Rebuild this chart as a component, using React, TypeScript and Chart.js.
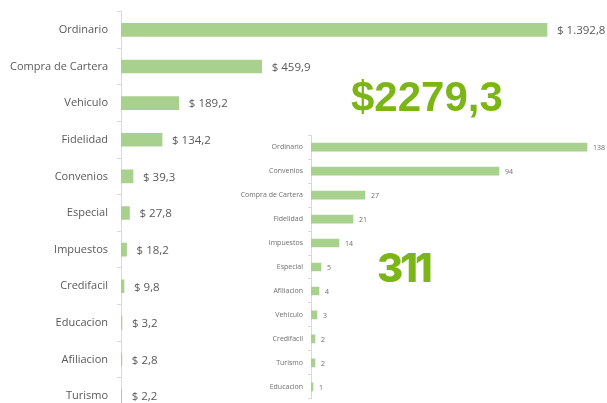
import React, { useEffect, useRef } from "react";
import { Chart, registerables } from "chart.js";

Chart.register(...registerables);

const mainCategories = ["Ordinario", "Compra de Cartera", "Vehiculo", "Fidelidad", "Convenios", "Especial", "Impuestos", "Credifacil", "Educacion", "Afiliacion", "Turismo"];
const mainValues = [1392.8, 459.9, 189.2, 134.2, 39.3, 27.8, 18.2, 9.8, 3.2, 2.8, 2.2];
const insetCategories = ["Ordinario", "Convenios", "Compra de Cartera", "Fidelidad", "Impuestos", "Especial", "Afiliacion", "Vehiculo", "Credifacil", "Turismo", "Educacion"];
const insetValues = [138, 94, 27, 21, 14, 5, 4, 3, 2, 2, 1];
const totalAmount = "$2279,3";
const totalCount = "311";

const BAR = "#a9d18e";
const AXIS = "#d9d9d9";
const TEXT = "#595959";

function fmtMoney(v: number): string {
  const parts = v.toFixed(1).split(".");
  const int = parts[0].replace(/\B(?=(\d{3})+(?!\d))/g, ".");
  return "$ " + int + "," + parts[1];
}

function valueLabelPlugin(fmt: (v: number) => string, font: string, gap: number, color: string) {
  return {
    id: "valueLabels",
    afterDatasetsDraw(chart: any) {
      const ctx = chart.ctx;
      const meta = chart.getDatasetMeta(0);
      const data = chart.data.datasets[0].data as number[];
      ctx.save();
      ctx.font = font;
      ctx.fillStyle = color;
      ctx.textAlign = "left";
      ctx.textBaseline = "middle";
      meta.data.forEach((el: any, i: number) => {
        ctx.fillText(fmt(data[i]), el.x + gap, el.y + 1);
      });
      ctx.restore();
    },
  };
}

function makeConfig(labels: string[], values: number[], opts: any) {
  return {
    type: "bar" as const,
    data: {
      labels,
      datasets: [{ data: values, backgroundColor: BAR, borderWidth: 0, barThickness: opts.thickness }],
    },
    options: {
      indexAxis: "y" as const,
      animation: false as const,
      responsive: false,
      maintainAspectRatio: false,
      layout: { padding: opts.padding },
      plugins: { legend: { display: false }, tooltip: { enabled: false } },
      scales: {
        x: { display: false, min: 0, max: opts.max },
        y: {
          afterFit: (s: any) => { s.width = opts.axisWidth; },
          border: { color: AXIS, width: 1 },
          grid: { drawOnChartArea: false, drawTicks: true, tickLength: opts.tickLength, color: AXIS, offset: true },
          ticks: { color: opts.tickColor, font: { family: "Open Sans", size: opts.fontSize }, padding: opts.tickPadding, autoSkip: false },
        },
      },
    },
    plugins: [valueLabelPlugin(opts.fmt, opts.labelFont, opts.gap, opts.tickColor)],
  };
}

export default function App() {
  const mainRef = useRef<HTMLCanvasElement>(null);
  const insetRef = useRef<HTMLCanvasElement>(null);

  useEffect(() => {
    const main = new Chart(mainRef.current as HTMLCanvasElement, makeConfig(mainCategories, mainValues, {
      thickness: 13,
      padding: { top: 2, bottom: 0, left: 0, right: 0 },
      max: 1589,
      axisWidth: 121,
      tickLength: 4,
      tickPadding: 9,
      fontSize: 11,
      tickColor: TEXT,
      fmt: fmtMoney,
      labelFont: "11.5px 'Open Sans'",
      gap: 10,
    }) as any);
    const inset = new Chart(insetRef.current as HTMLCanvasElement, makeConfig(insetCategories, insetValues, {
      thickness: 8,
      padding: { top: 0, bottom: 0, left: 0, right: 0 },
      max: 148,
      axisWidth: 81,
      tickLength: 3,
      tickPadding: 5,
      fontSize: 7,
      tickColor: "#6f6f6f",
      fmt: (v: number) => String(v),
      labelFont: "7px 'Open Sans'",
      gap: 6,
    }) as any);
    return () => { main.destroy(); inset.destroy(); };
  }, []);

  return (
    <div style={{ position: "absolute", left: 0, top: 0, width: 607, height: 403, overflow: "hidden", background: "#fff" }}>
      <canvas ref={mainRef} width={607} height={434} style={{ position: "absolute", left: 0, top: -4 }} />
      <canvas ref={insetRef} width={377} height={282} style={{ position: "absolute", left: 230, top: 126 }} />
      <div style={{ position: "absolute", left: 351, top: 72, fontFamily: "'Liberation Sans', Arial, sans-serif", fontWeight: 700, fontSize: 42, color: "#7cb518", lineHeight: "50px", whiteSpace: "nowrap" }}>{totalAmount}</div>
      <div style={{ position: "absolute", left: 377, top: 243, fontFamily: "Inter, sans-serif", fontWeight: 800, fontSize: 40, color: "#7cb518", lineHeight: "50px", letterSpacing: -3, whiteSpace: "nowrap" }}>{totalCount}</div>
    </div>
  );
}
